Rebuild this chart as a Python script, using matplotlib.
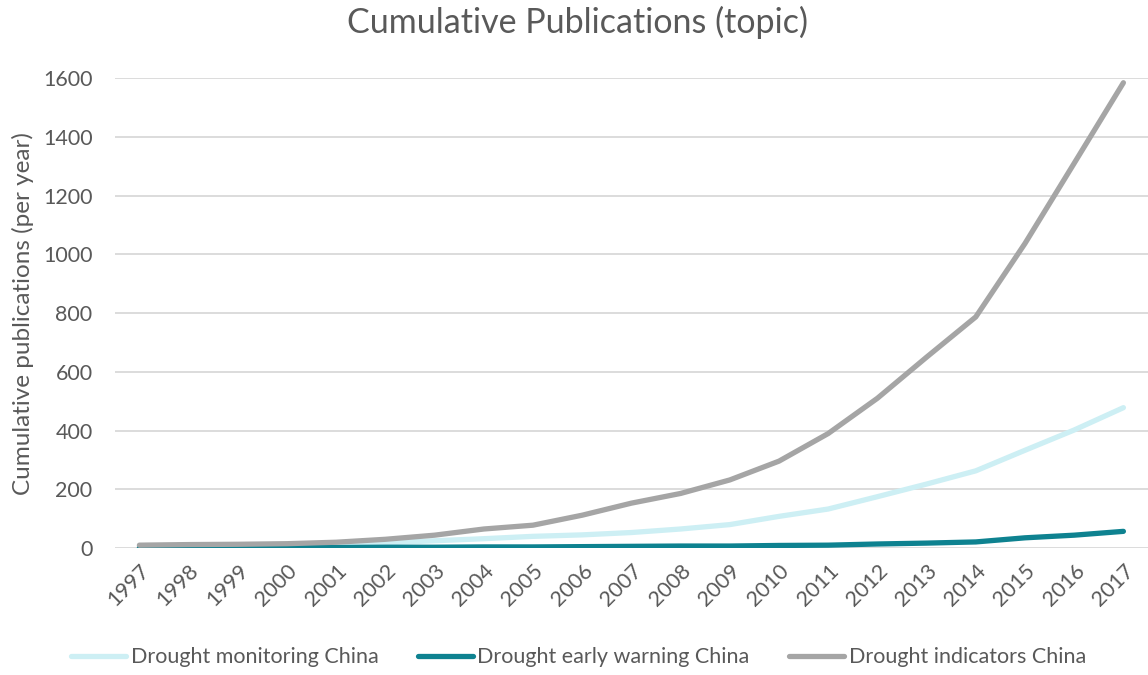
import numpy as np, matplotlib
matplotlib.use("Agg")
import matplotlib.pyplot as plt

years = [str(y) for y in range(1997, 2018)]
monitoring = [3, 4, 5, 8, 12, 18, 25, 32, 40, 45, 53, 65, 80, 108, 133, 175, 218, 263, 333, 402, 478]
early_warning = [1, 1, 1, 2, 2, 3, 3, 4, 4, 5, 6, 7, 7, 9, 10, 14, 17, 21, 35, 44, 57]
indicators = [10, 12, 13, 15, 20, 30, 44, 65, 78, 112, 153, 186, 232, 296, 390, 510, 650, 787, 1037, 1310, 1584]

text_color = "#595959"
plt.rcParams["font.family"] = ["Lato", "DejaVu Sans"]

fig = plt.figure(figsize=(11.48, 6.75), dpi=100, facecolor="white")
ax = fig.add_axes([0.100, 0.188, 0.900, 0.6964])
x = np.arange(len(years))
ax.plot(x, monitoring, color="#CDEFF4", linewidth=3.8, solid_capstyle="round", label="Drought monitoring China")
ax.plot(x, early_warning, color="#0E8290", linewidth=3.8, solid_capstyle="round", label="Drought early warning China")
ax.plot(x, indicators, color="#A5A5A5", linewidth=3.8, solid_capstyle="round", label="Drought indicators China")

ax.set_xlim(-0.5, len(years) - 0.5)
ax.set_ylim(0, 1600)
ax.set_yticks(range(0, 1601, 200))
ax.set_xticks(x)
ax.set_xticklabels(years, rotation=45, ha="right", rotation_mode="anchor")
ax.tick_params(axis="both", length=0, labelsize=15.5, colors=text_color)
ax.tick_params(axis="x", pad=9)
ax.tick_params(axis="y", pad=16)
ax.grid(axis="y", color="#D9D9D9", linewidth=1.3)
ax.set_axisbelow(True)
for s in ax.spines.values():
    s.set_visible(False)
ax.set_ylabel("Cumulative publications (per year)", fontsize=17.5, color=text_color)
ax.yaxis.set_label_coords(-0.078, 0.5)

fig.text(0.503, 0.967, "Cumulative Publications (topic)", fontsize=24.5, color=text_color,
         ha="center", va="center")
fig.legend(loc="center", bbox_to_anchor=(0.504, 0.026), ncol=3, frameon=False,
           fontsize=15.5, labelcolor=text_color, handlelength=2.55, handletextpad=0.2,
           columnspacing=1.85)

fig.savefig("out.png", dpi=100, facecolor="white")
